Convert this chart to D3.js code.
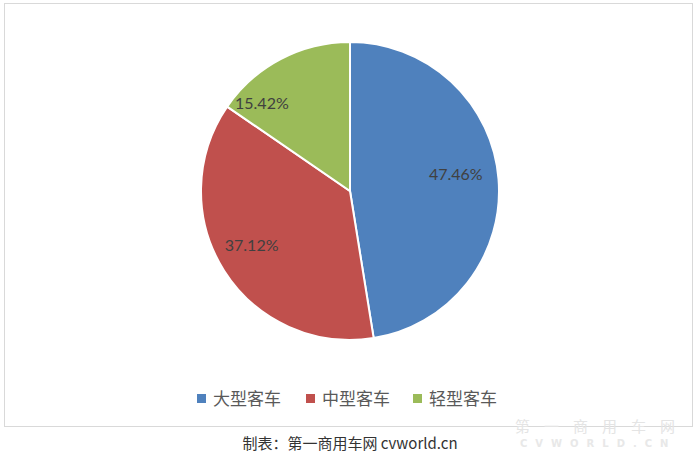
<!DOCTYPE html>
<html><head><meta charset="utf-8">
<script src="https://cdn.jsdelivr.net/npm/d3@7"></script>
<style>body{margin:0;background:#fff}svg{display:block}</style>
</head><body>
<script>
const categories = ["大型客车", "中型客车", "轻型客车"];
const values = [47.46, 37.12, 15.42];
const labels = ["47.46%", "37.12%", "15.42%"];
const colors = ["#4F81BD", "#C0504D", "#9BBB59"];
const caption = "制表：第一商用车网 cvworld.cn";

const W = 700, H = 460;
const svg = d3.select("body").append("svg").attr("width", W).attr("height", H);

// chart border
svg.append("rect").attr("x", 4.5).attr("y", 3.5).attr("width", 688).attr("height", 423)
  .attr("fill", "none").attr("stroke", "#d9d9d9").attr("stroke-width", 1);

const cx = 350, cy = 191, R = 149;
const pie = d3.pie().sort(null).value(d => d)(values);
const arc = d3.arc().innerRadius(0).outerRadius(R);
const g = svg.append("g").attr("transform", `translate(${cx},${cy})`);
g.selectAll("path").data(pie).join("path")
  .attr("d", arc).attr("fill", (d, i) => colors[i])
  .attr("stroke", "#fff").attr("stroke-width", 2);

// label placement (Excel best-fit approximations)
const labelAdj = [{a: -5, r: 0.72}, {a: 4, r: 0.75}, {a: -17, r: 0.84}];
g.selectAll("text.lbl").data(pie).join("text").attr("class", "lbl")
  .each(function (d, i) {
    const mid = (d.startAngle + d.endAngle) / 2 + labelAdj[i].a * Math.PI / 180;
    const r = R * labelAdj[i].r;
    d3.select(this).attr("x", r * Math.sin(mid)).attr("y", -r * Math.cos(mid));
  })
  .attr("text-anchor", "middle").attr("dominant-baseline", "central")
  .attr("font-family", "Lato, 'Open Sans', sans-serif").attr("font-size", 16)
  .attr("fill", "#404040").text((d, i) => labels[i]);

// legend
const legX = [197, 306, 413];
const leg = svg.append("g");
categories.forEach((c, i) => {
  leg.append("rect").attr("x", legX[i]).attr("y", 394).attr("width", 9).attr("height", 9).attr("fill", colors[i]);
  leg.append("text").attr("x", legX[i] + 16).attr("y", 405)
    .attr("font-family", "'Noto Sans CJK SC', sans-serif").attr("font-size", 17)
    .attr("fill", "#595959").text(c);
});

// caption
svg.append("text").attr("x", 350).attr("y", 449).attr("text-anchor", "middle")
  .attr("font-family", "'Noto Sans CJK SC', sans-serif").attr("font-size", 15)
  .attr("fill", "#333").text(caption);

// watermark
svg.append("text").attr("x", 515).attr("y", 432)
  .attr("font-family", "'Noto Sans CJK SC', sans-serif").attr("font-size", 15)
  .attr("letter-spacing", 14).attr("fill", "#e4e4e4").text("第一商用车网");
svg.append("text").attr("x", 520).attr("y", 447)
  .attr("font-family", "'DejaVu Sans', sans-serif").attr("font-weight", "bold").attr("font-size", 10)
  .attr("letter-spacing", 8).attr("fill", "#e8e8e8").text("CVWORLD.CN");
</script>
</body></html>
